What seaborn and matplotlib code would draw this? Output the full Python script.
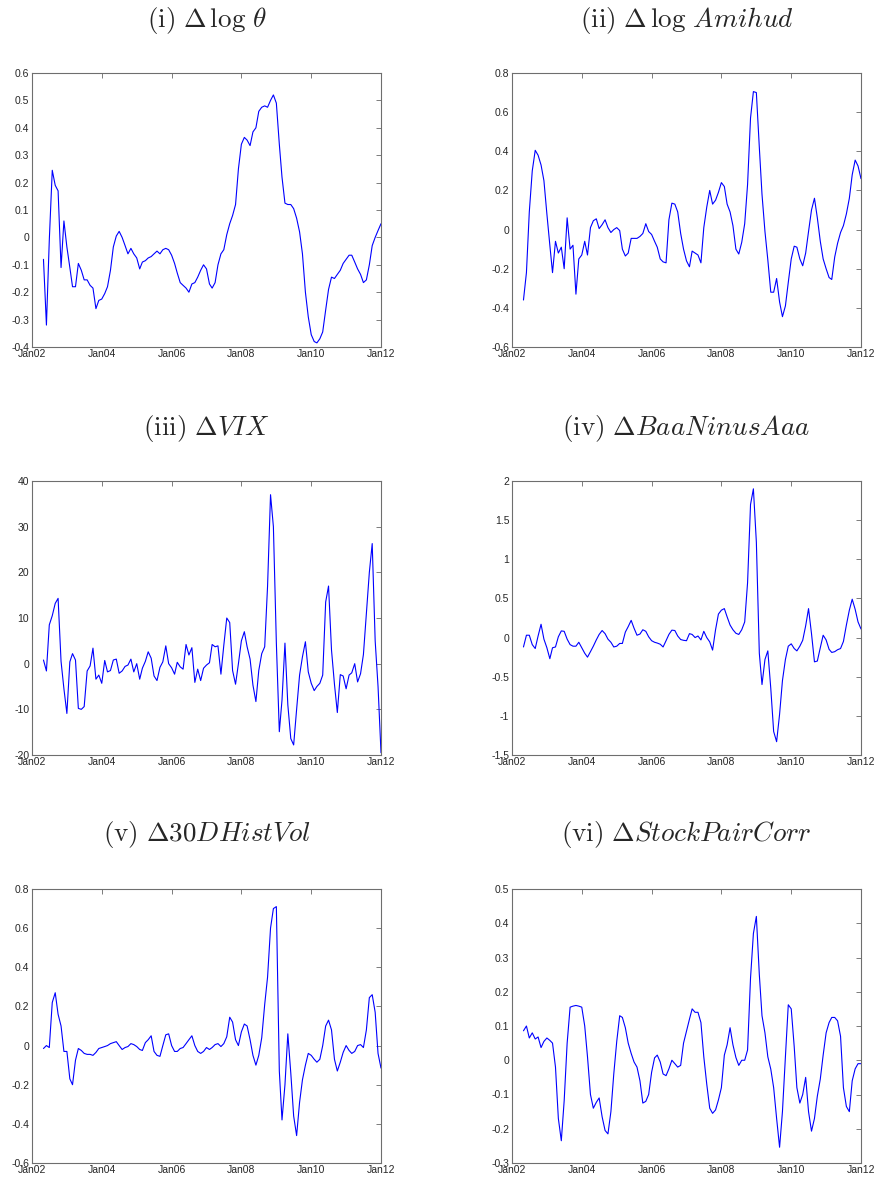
import numpy as np
import pandas as pd
import matplotlib
matplotlib.use("Agg")
import matplotlib.pyplot as plt
import seaborn as sns

# ---------------- data (monthly, May 2002 - Jan 2012) ----------------
dates = pd.date_range("2002-05-01", "2012-01-01", freq="MS")

theta = [
    -0.08, -0.32, -0.01, 0.245, 0.19, 0.17, -0.11, 0.06,
    -0.035, -0.11, -0.18, -0.18, -0.095, -0.12, -0.155, -0.155, -0.175, -0.185, -0.26, -0.23,
    -0.225, -0.205, -0.18, -0.12, -0.035, 0.005, 0.022, 0.0, -0.03, -0.06, -0.04, -0.06,
    -0.075, -0.115, -0.09, -0.085, -0.075, -0.07, -0.06, -0.05, -0.06, -0.045, -0.04, -0.045,
    -0.065, -0.095, -0.13, -0.165, -0.175, -0.185, -0.2, -0.17, -0.165, -0.145, -0.12, -0.1,
    -0.115, -0.17, -0.185, -0.165, -0.1, -0.06, -0.045, 0.01, 0.05, 0.08, 0.12, 0.25,
    0.34, 0.365, 0.355, 0.335, 0.385, 0.4, 0.46, 0.475, 0.48, 0.475, 0.5, 0.52,
    0.49, 0.34, 0.22, 0.125, 0.12, 0.12, 0.105, 0.07, 0.02, -0.06, -0.2, -0.29,
    -0.355, -0.38, -0.385, -0.37, -0.345, -0.265, -0.19, -0.145, -0.15, -0.135, -0.12, -0.095,
    -0.08, -0.065, -0.065, -0.09, -0.115, -0.135, -0.165, -0.155, -0.1, -0.03, 0.0, 0.025,
    0.05,
]

amihud = [
    -0.36, -0.22, 0.09, 0.3, 0.405, 0.38, 0.33, 0.25,
    0.08, -0.08, -0.22, -0.06, -0.12, -0.09, -0.2, 0.06, -0.1, -0.08, -0.33, -0.15,
    -0.13, -0.06, -0.13, 0.01, 0.045, 0.055, 0.005, 0.025, 0.05, 0.01, -0.015, 0.0,
    0.01, -0.005, -0.1, -0.135, -0.12, -0.045, -0.045, -0.045, -0.035, -0.02, 0.03, -0.01,
    -0.025, -0.06, -0.09, -0.15, -0.165, -0.17, 0.05, 0.135, 0.13, 0.09, -0.02, -0.1,
    -0.16, -0.19, -0.11, -0.12, -0.13, -0.17, 0.01, 0.115, 0.2, 0.13, 0.15, 0.19,
    0.24, 0.22, 0.13, 0.09, 0.02, -0.1, -0.125, -0.065, 0.03, 0.23, 0.57, 0.705,
    0.7, 0.42, 0.18, -0.01, -0.155, -0.32, -0.32, -0.25, -0.37, -0.445, -0.39, -0.27,
    -0.15, -0.085, -0.09, -0.15, -0.185, -0.12, -0.01, 0.1, 0.16, 0.06, -0.06, -0.15,
    -0.2, -0.245, -0.255, -0.14, -0.07, -0.015, 0.02, 0.08, 0.16, 0.28, 0.355, 0.325,
    0.26,
]

vix = [
    0.8, -1.6, 8.5, 10.5, 13.2, 14.3, 0.5, -5.5,
    -10.9, 0.4, 2.2, 0.8, -9.8, -10, -9.4, -1.6, -0.5, 3.4, -3.4, -2.5,
    -4.3, 0.7, -1.8, -1.5, 0.8, 1.0, -2.1, -1.6, -0.6, -0.3, 1.0, -1.8,
    0.0, -3.4, -1.0, 0.5, 2.6, 1.2, -2.7, -3.7, -0.8, 0.4, 3.9, 0.0,
    -0.9, -2.3, 0.3, -0.7, -1.2, 4.2, 1.9, 3.5, -4.1, -1.2, -3.7, -1.0,
    -0.3, 0.2, 4.2, 3.7, 3.9, -2.3, 4.0, 10.0, 9.0, -1.5, -4.5, 0.0,
    5.0, 7.0, 3.7, 1.0, -4.7, -8.3, -1.5, 2.2, 3.7, 17, 37, 30,
    4.5, -14.9, -8, 4.5, -9, -16.4, -17.8, -10, -2.5, 1.5, 4.8, -1.8,
    -4.3, -5.9, -5, -4.3, -2.5, 13.5, 17, 3, -4.5, -10.7, -2.4, -2.7,
    -5.5, -2.5, -2.0, 0.0, -4.0, -2.2, 2.0, 11, 20, 26.3, 5, -5,
    -19.5,
]

baa = [
    -0.12, 0.03, 0.03, -0.09, -0.14, 0.02, 0.17, -0.02,
    -0.13, -0.27, -0.13, -0.12, 0.01, 0.085, 0.08, -0.02, -0.09, -0.11, -0.11, -0.06,
    -0.13, -0.2, -0.25, -0.18, -0.11, -0.03, 0.04, 0.09, 0.05, -0.02, -0.06, -0.12,
    -0.11, -0.075, -0.075, 0.07, 0.14, 0.22, 0.12, 0.03, 0.045, 0.1, 0.08, 0.01,
    -0.04, -0.06, -0.07, -0.085, -0.12, -0.04, 0.04, 0.095, 0.09, 0.02, -0.025, -0.035,
    -0.04, 0.05, 0.04, 0.0, 0.02, -0.03, 0.08, 0.0, -0.055, -0.16, 0.1, 0.3,
    0.35, 0.37, 0.265, 0.16, 0.1, 0.055, 0.04, 0.1, 0.2, 0.7, 1.7, 1.9,
    1.22, -0.2, -0.6, -0.28, -0.17, -0.65, -1.2, -1.33, -0.98, -0.55, -0.28, -0.11,
    -0.08, -0.14, -0.17, -0.11, -0.035, 0.15, 0.37, 0.05, -0.31, -0.3, -0.13, 0.03,
    -0.03, -0.15, -0.19, -0.18, -0.155, -0.14, -0.05, 0.16, 0.35, 0.49, 0.36, 0.2,
    0.11,
]

histvol = [
    -0.015, 0.0, -0.01, 0.22, 0.27, 0.16, 0.1, -0.03,
    -0.03, -0.17, -0.2, -0.075, -0.015, -0.025, -0.04, -0.045, -0.045, -0.05, -0.035, -0.015,
    -0.01, -0.005, 0.0, 0.01, 0.015, 0.02, 0.0, -0.02, -0.01, -0.005, 0.01, 0.005,
    -0.005, -0.02, -0.025, 0.015, 0.03, 0.05, -0.03, -0.05, -0.055, 0.0, 0.055, 0.06,
    0.0, -0.03, -0.03, -0.015, -0.01, 0.01, 0.03, 0.05, 0.0, -0.03, -0.04, -0.03,
    -0.01, -0.02, -0.01, 0.005, 0.01, -0.005, 0.01, 0.045, 0.145, 0.12, 0.03, 0.0,
    0.07, 0.11, 0.1, 0.03, -0.05, -0.1, -0.05, 0.04, 0.21, 0.35, 0.6, 0.7,
    0.71, -0.13, -0.38, -0.2, 0.06, -0.14, -0.36, -0.46, -0.29, -0.175, -0.1, -0.04,
    -0.05, -0.07, -0.085, -0.07, 0.0, 0.1, 0.13, 0.08, -0.07, -0.13, -0.085, -0.035,
    0.0, -0.025, -0.04, -0.03, 0.0, 0.005, -0.01, 0.08, 0.245, 0.26, 0.17, -0.04,
    -0.115,
]

paircorr = [
    0.086, 0.1, 0.065, 0.08, 0.062, 0.068, 0.037, 0.055,
    0.065, 0.058, 0.05, -0.02, -0.17, -0.235, -0.118, 0.05, 0.155, 0.158, 0.16, 0.158,
    0.155, 0.1, 0.01, -0.1, -0.14, -0.123, -0.11, -0.165, -0.205, -0.215, -0.15, -0.04,
    0.055, 0.13, 0.125, 0.095, 0.05, 0.02, -0.005, -0.02, -0.06, -0.125, -0.12, -0.1,
    -0.035, 0.007, 0.015, -0.005, -0.04, -0.045, -0.025, 0.0, -0.01, -0.02, -0.015, 0.05,
    0.085, 0.12, 0.15, 0.14, 0.14, 0.11, 0.01, -0.07, -0.14, -0.155, -0.145, -0.116,
    -0.08, 0.015, 0.045, 0.095, 0.045, 0.008, -0.015, 0.0, 0.0, 0.03, 0.24, 0.37,
    0.42, 0.25, 0.13, 0.08, 0.01, -0.026, -0.08, -0.17, -0.254, -0.15, 0.01, 0.162,
    0.15, 0.04, -0.08, -0.125, -0.1, -0.05, -0.15, -0.207, -0.17, -0.105, -0.055, 0.015,
    0.08, 0.11, 0.125, 0.125, 0.115, 0.07, -0.08, -0.135, -0.15, -0.06, -0.025, -0.01,
    -0.01,
]

titles = [
    r"$\mathrm{(i)}\ \Delta\,\log\,\theta$",
    r"$\mathrm{(ii)}\ \Delta\,\log\,Amihud$",
    r"$\mathrm{(iii)}\ \Delta VIX$",
    r"$\mathrm{(iv)}\ \Delta BaaNinusAaa$",
    r"$\mathrm{(v)}\ \Delta 30DHistVol$",
    r"$\mathrm{(vi)}\ \Delta StockPairCorr$",
]

yticks = [
    [-0.4, -0.3, -0.2, -0.1, 0, 0.1, 0.2, 0.3, 0.4, 0.5, 0.6],
    [-0.6, -0.4, -0.2, 0, 0.2, 0.4, 0.6, 0.8],
    [-20, -10, 0, 10, 20, 30, 40],
    [-1.5, -1, -0.5, 0, 0.5, 1, 1.5, 2],
    [-0.6, -0.4, -0.2, 0, 0.2, 0.4, 0.6, 0.8],
    [-0.3, -0.2, -0.1, 0, 0.1, 0.2, 0.3, 0.4, 0.5],
]

xtick_dates = ["2002-01-01", "2004-01-01", "2006-01-01", "2008-01-01", "2010-01-01", "2012-01-01"]
xtick_labels = ["Jan02", "Jan04", "Jan06", "Jan08", "Jan10", "Jan12"]

series = [theta, amihud, vix, baa, histvol, paircorr]

# ---------------- style ----------------
sns.set_style("white")
plt.rcParams["font.family"] = ["Liberation Sans", "DejaVu Sans"]
plt.rcParams["mathtext.fontset"] = "cm"

W, H = 880, 1181
fig = plt.figure(figsize=(W / 100, H / 100), dpi=100)
fig.patch.set_facecolor("white")

col_left = [32, 512]
row_top = [73, 481, 889]
ax_w, ax_h = 349, 274
title_y = [20, 429, 835]


def fmt(v):
    s = f"{round(v, 6):g}"
    return "0" if s in ("-0", "0") else s


for i, vals in enumerate(series):
    r, c = divmod(i, 2)
    left = col_left[c] / W
    bottom = 1 - (row_top[r] + ax_h) / H
    ax = fig.add_axes([left, bottom, ax_w / W, ax_h / H])
    sns.lineplot(x=dates, y=vals, ax=ax, color="#0000ff", linewidth=0.8)
    ax.set_xlim(pd.Timestamp("2002-01-01"), pd.Timestamp("2012-01-01"))
    ax.set_xticks(pd.to_datetime(xtick_dates))
    ax.set_xticklabels(xtick_labels)
    yt = yticks[i]
    ax.set_ylim(yt[0], yt[-1])
    ax.set_yticks(yt)
    ax.set_yticklabels([fmt(v) for v in yt])
    ax.set_xlabel("")
    ax.set_ylabel("")
    ax.tick_params(direction="in", top=True, right=True, length=3.5, width=0.6,
                   labelsize=7.5, color="#666666", labelcolor="#262626")
    ax.tick_params(axis="x", pad=1.5)
    ax.tick_params(axis="y", pad=2)
    for s in ax.spines.values():
        s.set_linewidth(0.8)
        s.set_color("#6e6e6e")
    cx = (col_left[c] + ax_w / 2) / W
    fig.text(cx, 1 - title_y[r] / H, titles[i], ha="center", va="center",
             fontsize=19.5)

fig.savefig("out.png", dpi=100, facecolor="white")
